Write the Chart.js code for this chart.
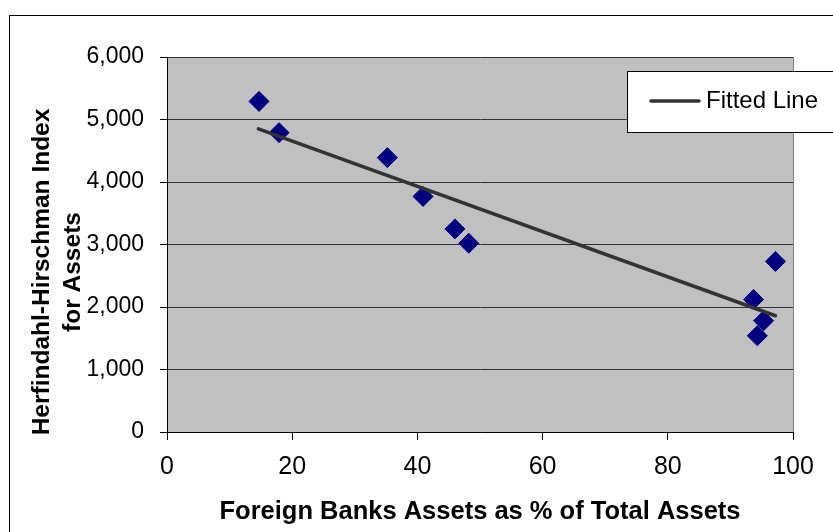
<!DOCTYPE html>
<html>
<head>
<meta charset="utf-8">
<script src="https://cdn.jsdelivr.net/npm/chart.js@4/dist/chart.umd.min.js"></script>
<style>
  html, body { margin: 0; padding: 0; background: #ffffff; }
  #wrap { width: 833px; height: 532px; }
</style>
</head>
<body>
<div id="wrap"><canvas id="c" width="833" height="532"></canvas></div>
<script>
// Foreign bank share of assets (%) and Herfindahl-Hirschman Index for assets
const foreignShare = [14.7, 17.9, 35.2, 40.9, 46.0, 48.2, 93.7, 97.2, 95.3, 94.3];
const hhiAssets    = [5290, 4790, 4390, 3770, 3250, 3020, 2120, 2730, 1780, 1540];

// Fitted line end points
const fitShare = [14.6, 97.2];
const fitHhi   = [4850, 1860];

// Axis ticks
const xTicks = [0, 20, 40, 60, 80, 100];
const yTicks = [0, 1000, 2000, 3000, 4000, 5000, 6000];

const xTitle = 'Foreign Banks Assets as % of Total Assets';
const yTitleLines = ['Herfindahl-Hirschman Index', 'for Assets'];
const fitLabel = 'Fitted Line';

const pointData = foreignShare.map((x, i) => ({ x: x, y: hhiAssets[i] }));
const fitData = fitShare.map((x, i) => ({ x: x, y: fitHhi[i] }));

// Page background, plot background, outer frame, axis title and legend
const framePlugin = {
  id: 'frame',
  beforeDraw(chart) {
    const { ctx, chartArea: a } = chart;
    ctx.save();
    ctx.fillStyle = '#ffffff';
    ctx.fillRect(0, 0, chart.width, chart.height);
    ctx.fillStyle = '#c0c0c0';
    ctx.fillRect(a.left, a.top, a.right - a.left, a.bottom - a.top);
    ctx.strokeStyle = '#000000';
    ctx.lineWidth = 1;
    ctx.strokeRect(9.5, 15.5, 900, 600);
    ctx.restore();
  },
  beforeDatasetsDraw(chart) {
    const { ctx, chartArea: a } = chart;
    ctx.save();
    ctx.strokeStyle = '#808080';
    ctx.lineWidth = 1;
    ctx.beginPath();
    ctx.moveTo(Math.round(a.right) + 0.5, a.top);
    ctx.lineTo(Math.round(a.right) + 0.5, a.bottom);
    ctx.stroke();
    ctx.restore();
  },
  afterDraw(chart) {
    const { ctx } = chart;
    ctx.save();
    // vertical axis title, two centred lines
    ctx.translate(48.5, 272);
    ctx.rotate(-Math.PI / 2);
    ctx.fillStyle = '#000000';
    ctx.font = 'bold 24.5px "Liberation Sans", Arial, sans-serif';
    ctx.textAlign = 'center';
    ctx.textBaseline = 'alphabetic';
    ctx.fillText(yTitleLines[0], 0, 0);
    ctx.fillText(yTitleLines[1], 0, 31.5);
    ctx.restore();

    // legend box
    const ds = chart.data.datasets[0];
    ctx.save();
    ctx.fillStyle = '#ffffff';
    ctx.fillRect(627.5, 71.5, 300, 61);
    ctx.strokeStyle = '#000000';
    ctx.lineWidth = 1;
    ctx.strokeRect(627.5, 71.5, 300, 61);
    ctx.strokeStyle = ds.borderColor;
    ctx.lineWidth = ds.borderWidth;
    ctx.lineCap = 'round';
    ctx.beginPath();
    ctx.moveTo(651, 101);
    ctx.lineTo(699, 101);
    ctx.stroke();
    ctx.fillStyle = '#000000';
    ctx.font = '24px "Liberation Sans", Arial, sans-serif';
    ctx.textAlign = 'left';
    ctx.textBaseline = 'alphabetic';
    ctx.fillText(ds.label, 706, 107.5);
    ctx.restore();
  }
};

new Chart(document.getElementById('c'), {
  type: 'scatter',
  data: {
    datasets: [
      {
        label: fitLabel,
        data: fitData,
        showLine: true,
        borderColor: '#333333',
        borderWidth: 3.5,
        borderCapStyle: 'round',
        pointRadius: 0,
        pointHoverRadius: 0,
        fill: false
      },
      {
        label: 'HHI',
        data: pointData,
        pointStyle: 'rectRot',
        pointRadius: 10,
        pointHoverRadius: 10,
        pointBackgroundColor: '#000080',
        pointBorderColor: '#000080',
        pointBorderWidth: 1,
        showLine: false
      }
    ]
  },
  options: {
    responsive: false,
    animation: false,
    devicePixelRatio: 1,
    layout: { autoPadding: false, padding: { top: 57, right: 40, left: 0, bottom: 0 } },
    plugins: {
      legend: { display: false },
      tooltip: { enabled: false },
      title: { display: false }
    },
    scales: {
      x: {
        type: 'linear',
        min: xTicks[0],
        max: xTicks[xTicks.length - 1],
        afterBuildTicks(scale) { scale.ticks = xTicks.map(v => ({ value: v })); },
        afterFit(scale) { scale.height = 100; },
        grid: {
          display: true,
          drawOnChartArea: false,
          drawTicks: true,
          tickLength: 8,
          tickColor: '#000000',
          tickWidth: 1
        },
        border: { display: true, color: '#000000', width: 1 },
        ticks: {
          padding: 12,
          color: '#000000',
          font: { family: '"Liberation Sans Narrow", "Liberation Sans", Arial, sans-serif', size: 25 },
          maxRotation: 0
        },
        title: {
          display: true,
          text: xTitle,
          color: '#000000',
          font: { family: '"Liberation Sans", Arial, sans-serif', size: 25.5, weight: 'bold' },
          padding: { top: 0, bottom: 5 }
        }
      },
      y: {
        type: 'linear',
        min: yTicks[0],
        max: yTicks[yTicks.length - 1],
        afterBuildTicks(scale) { scale.ticks = yTicks.map(v => ({ value: v })); },
        afterFit(scale) { scale.width = 167; },
        grid: {
          display: true,
          color: '#333333',
          lineWidth: 1,
          drawTicks: true,
          tickLength: 7,
          tickColor: '#000000',
          tickWidth: 1
        },
        border: { display: true, color: '#000000', width: 1 },
        ticks: {
          padding: 16,
          color: '#000000',
          font: { family: '"Liberation Sans", Arial, sans-serif', size: 23 },
          callback: v => Number(v).toLocaleString('en-US')
        }
      }
    }
  },
  plugins: [framePlugin]
});
</script>
</body>
</html>
